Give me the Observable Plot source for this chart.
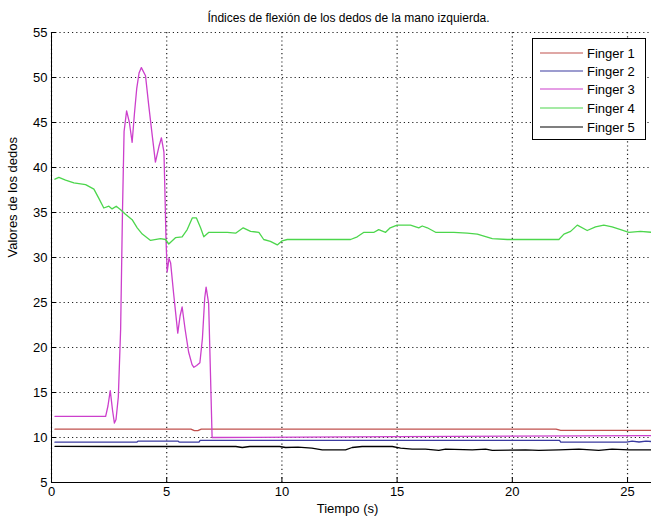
<!DOCTYPE html>
<html>
<head>
<meta charset="utf-8">
<script src="https://cdn.jsdelivr.net/npm/d3@7"></script>
<script src="https://cdn.jsdelivr.net/npm/@observablehq/plot@0.6"></script>
<style>
  html, body { margin: 0; padding: 0; background: #fff; }
  #wrap { position: relative; width: 651px; height: 522px; overflow: hidden; }
  #legend { position: absolute; left: 532px; top: 38px; width: 112px; height: 100px; border: 1px solid #000; background: #fff;
    font-family: "Liberation Sans Narrow", "Liberation Sans", Arial, sans-serif; font-size: 13px; color: #000; }
  .row { position: absolute; left: 0; height: 16px; display: flex; align-items: center; }
  .row svg { margin-left: 7px; margin-right: 4px; }
</style>
</head>
<body>
<div id="wrap"><div id="legend"></div></div>
<script>
const titleText = "Índices de flexión de los dedos de la mano izquierda.";
const xLabel = "Tiempo (s)";
const yLabel = "Valores de los dedos";
const xTicks = [0, 5, 10, 15, 20, 25];
const yTicks = [5, 10, 15, 20, 25, 30, 35, 40, 45, 50, 55];
const seriesNames = ["Finger 1", "Finger 2", "Finger 3", "Finger 4", "Finger 5"];
const seriesColors = ["#c0504d", "#3a3aa0", "#cc3fcc", "#4cd64c", "#000000"];

const f1T = [0.15, 6.05, 6.2, 6.35, 6.5, 21.9, 22.1, 26.04];
const f1V = [10.92, 10.92, 10.76, 10.76, 10.92, 10.92, 10.8, 10.8];

const f2T = [0.15, 3.7, 3.75, 5.5, 5.55, 6.4, 6.45, 22.05, 22.1, 24.95, 25.2, 25.5, 25.8, 26.04];
const f2V = [9.48, 9.48, 9.59, 9.59, 9.48, 9.48, 9.67, 9.67, 9.48, 9.48, 9.6, 9.5, 9.6, 9.55];

const f3T = [0.15, 2.35, 2.45, 2.55, 2.65, 2.73, 2.8, 2.9, 3.0, 3.08, 3.15, 3.26, 3.38, 3.5, 3.6, 3.7, 3.8, 3.9, 4.08, 4.22, 4.37, 4.51, 4.66, 4.77, 4.88, 4.92, 4.97, 5.02, 5.1, 5.17, 5.3, 5.48, 5.58, 5.67, 5.8, 5.95, 6.1, 6.18, 6.3, 6.44, 6.55, 6.65, 6.71, 6.82, 6.9, 6.97, 15, 26.04];
const f3V = [12.35, 12.35, 13.5, 15.2, 13, 11.6, 12, 14.5, 22, 35, 44, 46.3, 45, 42.8, 46, 48.8, 50.5, 51.1, 50.2, 46.9, 43.6, 40.6, 42.3, 43.3, 41.7, 37.6, 32, 28.4, 29.9, 29.4, 26, 21.6, 23.5, 24.5, 22, 19.5, 18.1, 17.8, 18, 18.3, 21, 25.5, 26.7, 24.9, 17, 10.0, 10.1, 10.2];

const f4T = [0.15, 0.32, 0.61, 0.97, 1.48, 1.84, 2.05, 2.27, 2.49, 2.63, 2.81, 3.0, 3.21, 3.5, 3.72, 3.94, 4.3, 4.73, 4.95, 5.09, 5.38, 5.67, 5.89, 6.11, 6.29, 6.47, 6.61, 6.83, 7.63, 7.99, 8.32, 8.64, 9.0, 9.21, 9.5, 9.8, 10.01, 10.23, 12.98, 13.27, 13.56, 14.0, 14.2, 14.5, 14.7, 15.0, 15.58, 15.94, 16.09, 16.31, 16.67, 17.46, 18.04, 18.48, 19.13, 19.78, 22.02, 22.24, 22.53, 22.82, 23.25, 23.61, 23.97, 24.33, 24.7, 25.06, 25.56, 26.04];
const f4V = [38.7, 38.9, 38.6, 38.3, 38.1, 37.6, 36.6, 35.5, 35.7, 35.4, 35.7, 35.3, 34.8, 34.2, 33.3, 32.6, 31.9, 32.1, 32.0, 31.5, 32.2, 32.3, 33.1, 34.4, 34.4, 33.3, 32.3, 32.8, 32.8, 32.7, 33.3, 32.9, 32.8, 32.0, 31.8, 31.4, 31.85, 32.0, 32.0, 32.3, 32.8, 32.8, 33.1, 32.8, 33.3, 33.6, 33.6, 33.3, 33.5, 33.3, 32.8, 32.8, 32.7, 32.6, 32.1, 32.0, 32.0, 32.6, 32.9, 33.6, 33.0, 33.4, 33.6, 33.4, 33.1, 32.8, 32.9, 32.8];

const f5T = [0.15, 2.7, 8.0, 8.28, 8.6, 9.9, 10.16, 10.7, 11.3, 11.75, 12.47, 12.76, 13.05, 13.48, 14.79, 15.15, 15.65, 16.23, 16.81, 17.1, 18.26, 18.84, 19.13, 20.57, 21.15, 22.02, 22.89, 23.75, 24.33, 25.06, 26.04];
const f5V = [9.02, 9.0, 9.0, 8.89, 9.0, 9.0, 8.89, 8.93, 8.81, 8.63, 8.63, 8.63, 8.89, 9.0, 9.0, 8.81, 8.7, 8.7, 8.56, 8.7, 8.63, 8.7, 8.56, 8.63, 8.56, 8.63, 8.7, 8.56, 8.7, 8.63, 8.63];

const allT = [f1T, f2T, f3T, f4T, f5T];
const allV = [f1V, f2V, f3V, f4V, f5V];
const series = seriesNames.map((name, i) => allT[i].map((t, j) => ({name, t, v: allV[i][j]})));

const font = '"Liberation Sans Narrow", "Liberation Sans", Arial, sans-serif';

const chart = Plot.plot({
  width: 651,
  height: 522,
  marginTop: 32,
  marginBottom: 40,
  marginLeft: 51,
  marginRight: 0,
  style: {fontFamily: font, fontSize: "13px", color: "#000", background: "#fff", overflow: "visible"},
  x: {domain: [0, 26.04]},
  y: {domain: [5, 55]},
  marks: [
    Plot.ruleX(xTicks, {x: d => d, stroke: "#222", strokeWidth: 1.2, strokeOpacity: 1, strokeDasharray: "1.2,3"}),
    Plot.ruleY(yTicks, {y: d => d, stroke: "#222", strokeWidth: 1.2, strokeOpacity: 1, strokeDasharray: "1.2,3"}),
    ...series.map((s, i) => Plot.line(s, {x: "t", y: "v", stroke: seriesColors[i], strokeWidth: 1.3, clip: true})),
    Plot.ruleX([0], {stroke: "#000", strokeWidth: 1}),
    Plot.ruleY([5], {stroke: "#000", strokeWidth: 1}),
    Plot.axisX({ticks: xTicks, tickSize: 0, tickPadding: 4, fontSize: 13, label: null}),
    Plot.axisY({ticks: yTicks, tickSize: 0, tickPadding: 4, fontSize: 13, label: null}),
    Plot.ruleX(xTicks, {x: d => d, y1: 5, y2: 5.55, stroke: "#000"}),
    Plot.ruleY(yTicks, {y: d => d, x1: 0, x2: 0.22, stroke: "#000"}),
    Plot.text([titleText], {text: d => d, frameAnchor: "top", dy: -19, dx: -3, fontSize: 12}),
    Plot.text([xLabel], {text: d => d, frameAnchor: "bottom", dy: 30, dx: -4, fontSize: 13}),
    Plot.text([yLabel], {text: d => d, frameAnchor: "left", dx: -39, rotate: -90, fontSize: 13})
  ]
});
document.getElementById("wrap").prepend(chart);

const legend = document.getElementById("legend");
const rowTops = [6, 24, 42, 61, 80];
seriesNames.forEach((name, i) => {
  const row = document.createElement("div");
  row.className = "row";
  row.style.top = rowTops[i] + "px";
  row.innerHTML = `<svg width="43" height="4"><line x1="0" x2="43" y1="2" y2="2" stroke="${seriesColors[i]}" stroke-width="1.2"/></svg><span>${name}</span>`;
  legend.appendChild(row);
});
</script>
</body>
</html>
